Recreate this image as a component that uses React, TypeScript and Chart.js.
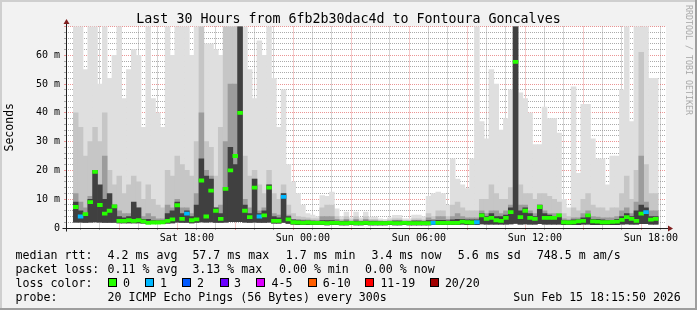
import React, { useEffect, useRef } from 'react';
import { Chart, registerables } from 'chart.js';

Chart.register(...registerables);

// ---------- text ----------
const TITLE = 'Last 30 Hours from 6fb2b30dac4d to Fontoura Goncalves';
const Y_TITLE = 'Seconds';
const WATERMARK = 'RRDTOOL / TOBI OETIKER';

// ---------- axes (hours relative to Sun 18:00) ----------
const X_MIN = -29.736;
const X_MAX = 0.264;
const X_LABEL_HOURS = [-24, -18, -12, -6, 0];
const X_LABELS = ['Sat 18:00', 'Sun 00:00', 'Sun 06:00', 'Sun 12:00', 'Sun 18:00'];
const Y_MAX = 70;
const Y_LABEL_VALUES = [0, 10, 20, 30, 40, 50, 60];
const Y_LABELS = ['0', '10 m', '20 m', '30 m', '40 m', '50 m', '60 m'];

// ---------- samples: one every 15 minutes ----------
const FIRST_SAMPLE = -29.75;
const SAMPLE_STEP = 0.25;

// smoke, in ms (outer light band top -> inner dark band top)
const SMOKE_MAX = [
  80, 80, 55, 80, 80, 50, 80, 52, 60, 80,
  45, 55, 62, 60, 35, 80, 45, 40, 35, 80,
  60, 80, 80, 80, 60, 80, 80, 64, 64, 62,
  60, 62, 80, 80, 80, 80, 55, 45, 65, 60,
  80, 52, 35, 48, 22, 16, 12, 8, 5, 4.5,
  4, 11.3, 11, 12.5, 6.7, 4, 5.5, 3.5, 5.5, 3.5,
  5.5, 3.8, 3.8, 3.2, 3.0, 3.5, 4.4, 4.4, 3.2, 3.2,
  4.5, 4.5, 4, 11, 12, 12.5, 12, 8, 24, 17,
  15, 13.7, 24, 80, 37, 31, 55, 50, 34, 38,
  48, 80, 47, 45, 40, 29, 29, 42, 38, 38,
  33, 10, 7, 49, 19, 43, 43, 31, 24, 24,
  15, 25, 25, 48, 80, 37, 80, 80, 80, 52,
  52,
];
const SMOKE_P2 = [
  40, 35, 25, 30, 35, 30, 40, 20, 15, 18,
  12, 15, 18, 16, 10, 15, 10, 8, 7, 20,
  18, 25, 22, 20, 18, 30, 80, 30, 28, 18,
  35, 80, 80, 80, 80, 25, 18, 20, 15, 12,
  20, 12, 10, 15, 8, 5, 4, 3.8, 3.5, 3.2,
  3.2, 7, 8, 8, 4, 3, 4, 2.8, 4, 2.8,
  4, 3, 3, 2.6, 2.5, 2.8, 3.2, 3.2, 2.6, 2.6,
  3.2, 3.2, 2.8, 5, 4, 6, 6, 4, 8, 9,
  7, 6, 6, 6, 10, 10, 15, 12, 10, 10,
  14, 80, 15, 12, 12, 10, 12, 12, 11, 10,
  9, 5, 4, 7, 6, 10, 12, 8, 7, 7,
  6, 7, 7, 12, 18, 10, 20, 61, 22, 12,
  12,
];
const SMOKE_P3 = [
  12, 9, 7, 11, 20, 14, 25, 8, 8, 6,
  5, 5, 8, 7, 4, 5, 4, 3.2, 3.2, 8,
  7, 10, 7, 7, 5, 12, 40, 20, 18, 7,
  8, 30, 50, 50, 80, 10, 7, 17, 6, 7,
  15, 5, 4.5, 12, 4.5, 3, 3, 2.8, 2.8, 2.7,
  2.7, 4, 4, 4, 3, 2.5, 3, 2.4, 3, 2.4,
  3, 2.6, 2.6, 2.4, 2.3, 2.5, 2.7, 2.7, 2.4, 2.4,
  2.7, 2.7, 2.5, 3.5, 3, 4, 4, 3, 4, 5,
  4, 3.5, 3.5, 3.5, 6, 5, 6, 6, 5, 6,
  8, 80, 8, 8, 6, 5, 8, 6, 5, 5,
  5, 3.2, 2.8, 3.5, 3.5, 5, 6, 4, 3.8, 3.5,
  3.5, 3.5, 4, 6, 7, 5, 9, 25, 9, 6,
  6,
];
const SMOKE_P4 = [
  9, 6, 5, 10, 20, 15, 10, 12, 8, 4,
  3.5, 4, 9, 7, 3, 3, 2.6, 2.5, 2.5, 5,
  6, 9, 5, 6, 4, 8, 24, 18, 17, 7,
  5, 14, 28, 22, 80, 8, 5, 17, 5, 6,
  15, 4, 3.5, 12, 4, 2.8, 2.6, 2.5, 2.5, 2.4,
  2.3, 2.6, 2.6, 2.6, 2.4, 2.3, 2.4, 2.2, 2.4, 2.2,
  2.4, 2.3, 2.3, 2.2, 2.2, 2.3, 2.4, 2.4, 2.2, 2.2,
  2.4, 2.4, 2.3, 2.6, 2.5, 2.7, 2.7, 2.5, 2.8, 3,
  3, 2.8, 2.8, 2.8, 5, 4, 5, 4, 4, 4.5,
  7, 80, 6, 7, 5, 4, 8, 5, 4.5, 4,
  4, 2.6, 2.5, 2.8, 2.8, 3.5, 4.5, 3, 3, 2.8,
  2.6, 2.7, 3, 4, 5, 4, 6, 8, 7, 4,
  4,
];
const SMOKE_MIN = [
  2.0, 2.0, 1.9, 2.0, 2.1, 2.0, 1.9, 1.9, 1.9, 1.8,
  1.8, 1.8, 1.8, 1.8, 1.7, 1.5, 1.5, 1.5, 1.5, 1.7,
  1.8, 2.0, 1.9, 1.9, 1.8, 1.9, 2.1, 2.0, 2.1, 1.9,
  1.9, 2.0, 2.2, 2.2, 2.2, 2.0, 1.9, 2.0, 1.9, 1.9,
  2.0, 1.7, 1.7, 1.9, 1.6, 1.3, 1.2, 1.2, 1.2, 1.2,
  1.2, 1.2, 1.1, 1.2, 1.2, 1.1, 1.1, 1.2, 1.1, 1.1,
  1.2, 1.1, 1.1, 1.1, 1.1, 1.2, 1.1, 1.1, 1.2, 1.1,
  1.1, 1.1, 1.1, 1.1, 1.2, 1.2, 1.2, 1.2, 1.2, 1.2,
  1.3, 1.2, 1.2, 1.2, 1.4, 1.3, 1.3, 1.3, 1.3, 1.3,
  1.4, 1.6, 1.3, 1.4, 1.3, 1.3, 1.5, 1.3, 1.3, 1.3,
  1.3, 1.2, 1.2, 1.2, 1.2, 1.3, 1.3, 1.2, 1.2, 1.2,
  1.2, 1.2, 1.2, 1.3, 1.4, 1.3, 1.3, 1.5, 1.5, 1.3,
  1.3,
];
const MEDIAN = [
  7.3, 4, 4.8, 9, 19.5, 8, 5, 6, 7.5, 2.5,
  2.5, 2.7, 2.5, 2.7, 2.3, 1.8, 1.9, 1.9, 2.0, 2.5,
  3, 7.9, 3.2, 5, 2.7, 3, 16.5, 4, 13, 6,
  3.2, 13.6, 20, 25, 40, 6, 3.8, 14, 4, 4.4,
  14, 2.5, 2.5, 10.8, 3, 2.0, 1.9, 1.8, 1.9, 1.8,
  1.8, 1.8, 1.7, 1.8, 1.8, 1.7, 1.7, 1.8, 1.7, 1.7,
  1.8, 1.7, 1.7, 1.7, 1.7, 1.8, 1.7, 1.7, 1.8, 1.7,
  1.7, 1.7, 1.7, 1.7, 1.8, 1.8, 1.8, 1.8, 1.8, 1.8,
  2.2, 2.0, 1.9, 2.0, 4.4, 3.2, 3.5, 2.7, 2.5, 3.5,
  5.5, 57.7, 3.8, 6, 3.5, 3.2, 7.3, 3.5, 3.5, 3.5,
  4.4, 2.0, 1.9, 2.0, 2.3, 2.5, 4.4, 2.3, 2.2, 2.0,
  2.0, 2.1, 2.2, 2.8, 3.8, 3.2, 2.5, 5, 5.5, 2.9,
  3.2,
];
// samples where 1 of 20 pings was lost
const LOSS_ONE_SAMPLES = [1, 23, 38, 43, 74, 83, 118];

// ---------- legend ----------
const LOSS_LABELS = ['0', '1', '2', '3', '4-5', '6-10', '11-19', '20/20'];
const LOSS_COLORS = ['#26ff00', '#00b8ff', '#0059ff', '#6a00ff', '#dd00ff', '#ff5e00', '#ff0000', '#a10000'];
const RTT_STATS = ['4.2 ms avg', '57.7 ms max', '1.7 ms min', '3.4 ms now', '5.6 ms sd', '748.5 m am/s'];
const LOSS_STATS = ['0.11 % avg', '3.13 % max', '0.00 % min', '0.00 % now'];
const PROBE_TEXT = '20 ICMP Echo Pings (56 Bytes) every 300s';
const STAMP_TEXT = 'Sun Feb 15 18:15:50 2026';

// ---------- styling ----------
const MONO = '"DejaVu Sans Mono", "Liberation Mono", monospace';
const GRID_MINOR = 'rgba(143,143,143,0.75)';
const GRID_MAJOR = 'rgba(222,79,79,0.6)';

const framePlugin = {
  id: 'rrdFrame',
  beforeDraw(chart: any) {
    const { ctx, width, height, chartArea } = chart;
    ctx.save();
    ctx.fillStyle = '#f2f2f2';
    ctx.fillRect(0, 0, width, height);
    ctx.fillStyle = '#cfcfcf';
    ctx.fillRect(0, 0, width, 2);
    ctx.fillRect(0, 0, 2, height);
    ctx.fillStyle = '#9e9e9e';
    ctx.fillRect(0, height - 2, width, 2);
    ctx.fillRect(width - 2, 0, 2, height);
    ctx.fillStyle = '#ffffff';
    ctx.fillRect(chartArea.left, chartArea.top, chartArea.right - chartArea.left, chartArea.bottom - chartArea.top);
    ctx.restore();
  },
  afterDraw(chart: any) {
    const { ctx } = chart;
    const xs = chart.scales.x;
    const ys = chart.scales.y;
    const y0 = Math.round(ys.getPixelForValue(0)) + 0.5;
    const x0 = Math.round(xs.left) + 0.5;
    const xEnd = Math.round(xs.right) + 2;
    const yTop = Math.round(ys.top) - 3;
    ctx.save();
    ctx.strokeStyle = '#1f1f1f';
    ctx.lineWidth = 1;
    ctx.beginPath();
    ctx.moveTo(x0 - 4, y0);
    ctx.lineTo(xEnd + 1, y0);
    ctx.moveTo(x0, y0 + 3);
    ctx.lineTo(x0, yTop);
    ctx.stroke();
    ctx.fillStyle = '#801f1f';
    ctx.beginPath();
    ctx.moveTo(xEnd, y0 - 3);
    ctx.lineTo(xEnd + 5, y0);
    ctx.lineTo(xEnd, y0 + 3);
    ctx.closePath();
    ctx.fill();
    ctx.beginPath();
    ctx.moveTo(x0 - 3, yTop);
    ctx.lineTo(x0, yTop - 5);
    ctx.lineTo(x0 + 3, yTop);
    ctx.closePath();
    ctx.fill();
    ctx.restore();
  },
};

const textStyle = (left: number, top: number): React.CSSProperties => ({
  position: 'absolute',
  left,
  top,
  font: `11.6px ${MONO}`,
  lineHeight: '14px',
  color: '#000',
  whiteSpace: 'pre',
});

const LINE_TOPS = [247.5, 261.5, 275.5, 289.5];
const RTT_X = [107.6, 192.4, 285.8, 371.6, 457.8, 536.9];
const LOSS_X = [107.6, 192.4, 279, 364.9];
const BOX_X = [108, 144.9, 182.2, 219.6, 256.4, 307.6, 365.3, 429.8];
const BOX_LABEL_X = [123, 160, 197, 234, 271.6, 322.7, 380.4, 444.9];

export default function App() {
  const ref = useRef<HTMLCanvasElement>(null);

  useEffect(() => {
    const canvas = ref.current;
    if (!canvas) return;
    const times = MEDIAN.map((_, i) => FIRST_SAMPLE + i * SAMPLE_STEP);
    const band = (top: number[]) => times.map((t, i) => ({ x: t, y: [SMOKE_MIN[i], top[i]] }));
    const medianColors = MEDIAN.map((_, i) => LOSS_COLORS[LOSS_ONE_SAMPLES.includes(i) ? 1 : 0]);

    const xTicks: number[] = [];
    for (let h = Math.ceil(X_MIN); h <= Math.floor(X_MAX); h++) xTicks.push(h);
    const yTicks: number[] = [];
    for (let v = 0; v <= Y_MAX; v += 2) yTicks.push(v);

    const chart = new Chart(canvas, {
      type: 'bar',
      data: {
        datasets: [
          {
            label: 'median',
            data: times.map((t, i) => ({ x: t, y: [MEDIAN[i] - 0.55, MEDIAN[i] + 0.55] })) as any,
            backgroundColor: medianColors,
            order: 0,
          },
          { label: 'p4', data: band(SMOKE_P4) as any, backgroundColor: '#404040', order: 1 },
          { label: 'p3', data: band(SMOKE_P3) as any, backgroundColor: '#9c9c9c', order: 2 },
          { label: 'p2', data: band(SMOKE_P2) as any, backgroundColor: '#c6c6c6', order: 3 },
          { label: 'max', data: band(SMOKE_MAX) as any, backgroundColor: '#dfdfdf', order: 4 },
        ],
      },
      options: {
        animation: false,
        responsive: false,
        devicePixelRatio: 1,
        layout: { padding: 0 },
        datasets: {
          bar: {
            grouped: false,
            categoryPercentage: 1,
            barPercentage: 1,
            borderWidth: 0,
            borderSkipped: false,
          } as any,
        },
        plugins: {
          legend: { display: false },
          tooltip: { enabled: false },
          title: {
            display: true,
            text: TITLE,
            color: '#000',
            font: { family: MONO, size: 13.3, lineHeight: 1, weight: 'normal' },
            padding: { top: 12.5, bottom: 0.7 },
          },
        },
        scales: {
          x: {
            type: 'linear',
            min: X_MIN,
            max: X_MAX,
            z: 1,
            afterFit: (s: any) => {
              s.height = 82;
            },
            afterBuildTicks: (s: any) => {
              s.ticks = xTicks.map((v) => ({ value: v }));
            },
            grid: {
              color: (c: any) => (c.tick && c.tick.value % 3 === 0 ? GRID_MAJOR : GRID_MINOR),
              lineWidth: 1,
              drawTicks: true,
              tickLength: 2,
              tickBorderDash: [],
            },
            border: { display: false, dash: [1, 1] },
            ticks: {
              autoSkip: false,
              maxRotation: 0,
              padding: 2.3,
              color: '#000',
              font: { family: MONO, size: 10, lineHeight: 1.2 },
              callback: (v: any) => {
                const k = X_LABEL_HOURS.indexOf(Number(v));
                return k >= 0 ? X_LABELS[k] : '';
              },
            },
          },
          y: {
            type: 'linear',
            position: 'left',
            min: 0,
            max: Y_MAX,
            z: 1,
            afterFit: (s: any) => {
              s.width = 66;
            },
            afterBuildTicks: (s: any) => {
              s.ticks = yTicks.map((v) => ({ value: v }));
            },
            grid: {
              color: (c: any) => (c.tick && c.tick.value % 10 === 0 ? GRID_MAJOR : GRID_MINOR),
              lineWidth: 1,
              drawTicks: true,
              tickLength: 2,
              tickBorderDash: [],
            },
            border: { display: false, dash: [1, 1] },
            ticks: {
              autoSkip: false,
              padding: 4,
              color: '#000',
              font: { family: MONO, size: 10, lineHeight: 1.2 },
              callback: (v: any) => {
                const k = Y_LABEL_VALUES.indexOf(Number(v));
                return k >= 0 ? Y_LABELS[k] : '';
              },
            },
            title: {
              display: true,
              text: Y_TITLE,
              color: '#000',
              font: { family: MONO, size: 11.5, lineHeight: 1.2 },
              padding: { top: 3.1, bottom: 0 },
            },
          },
          yR: {
            type: 'linear',
            position: 'right',
            display: true,
            afterFit: (s: any) => {
              s.width = 31;
            },
            grid: { display: false, drawTicks: false },
            border: { display: false },
            ticks: { display: false },
          },
        },
      } as any,
      plugins: [framePlugin],
    });
    return () => chart.destroy();
  }, []);

  return (
    <div style={{ position: 'absolute', left: 0, top: 0, width: 697, height: 310, overflow: 'hidden' }}>
      <canvas ref={ref} width={697} height={310} style={{ position: 'absolute', left: 0, top: 0, width: 697, height: 310 }} />
      <div
        style={{
          position: 'absolute',
          left: 694,
          top: 5,
          transform: 'rotate(90deg)',
          transformOrigin: '0 0',
          font: `8.3px ${MONO}`,
          lineHeight: '10px',
          color: '#a9a9a9',
          whiteSpace: 'pre',
        }}
      >
        {WATERMARK}
      </div>

      <div style={textStyle(15.6, LINE_TOPS[0])}>median rtt:</div>
      {RTT_STATS.map((s, i) => (
        <div key={'r' + i} style={textStyle(RTT_X[i], LINE_TOPS[0])}>{s}</div>
      ))}

      <div style={textStyle(15.6, LINE_TOPS[1])}>packet loss:</div>
      {LOSS_STATS.map((s, i) => (
        <div key={'l' + i} style={textStyle(LOSS_X[i], LINE_TOPS[1])}>{s}</div>
      ))}

      <div style={textStyle(15.6, LINE_TOPS[2])}>loss color:</div>
      {LOSS_LABELS.map((s, i) => (
        <React.Fragment key={'c' + i}>
          <div
            style={{
              position: 'absolute',
              left: BOX_X[i],
              top: LINE_TOPS[2] + 2.5,
              width: 9,
              height: 9,
              boxSizing: 'border-box',
              border: '1px solid #000',
              background: LOSS_COLORS[i],
            }}
          />
          <div style={textStyle(BOX_LABEL_X[i], LINE_TOPS[2])}>{s}</div>
        </React.Fragment>
      ))}

      <div style={textStyle(15.6, LINE_TOPS[3])}>probe:</div>
      <div style={textStyle(107.6, LINE_TOPS[3])}>{PROBE_TEXT}</div>
      <div style={textStyle(513.3, LINE_TOPS[3])}>{STAMP_TEXT}</div>
    </div>
  );
}
